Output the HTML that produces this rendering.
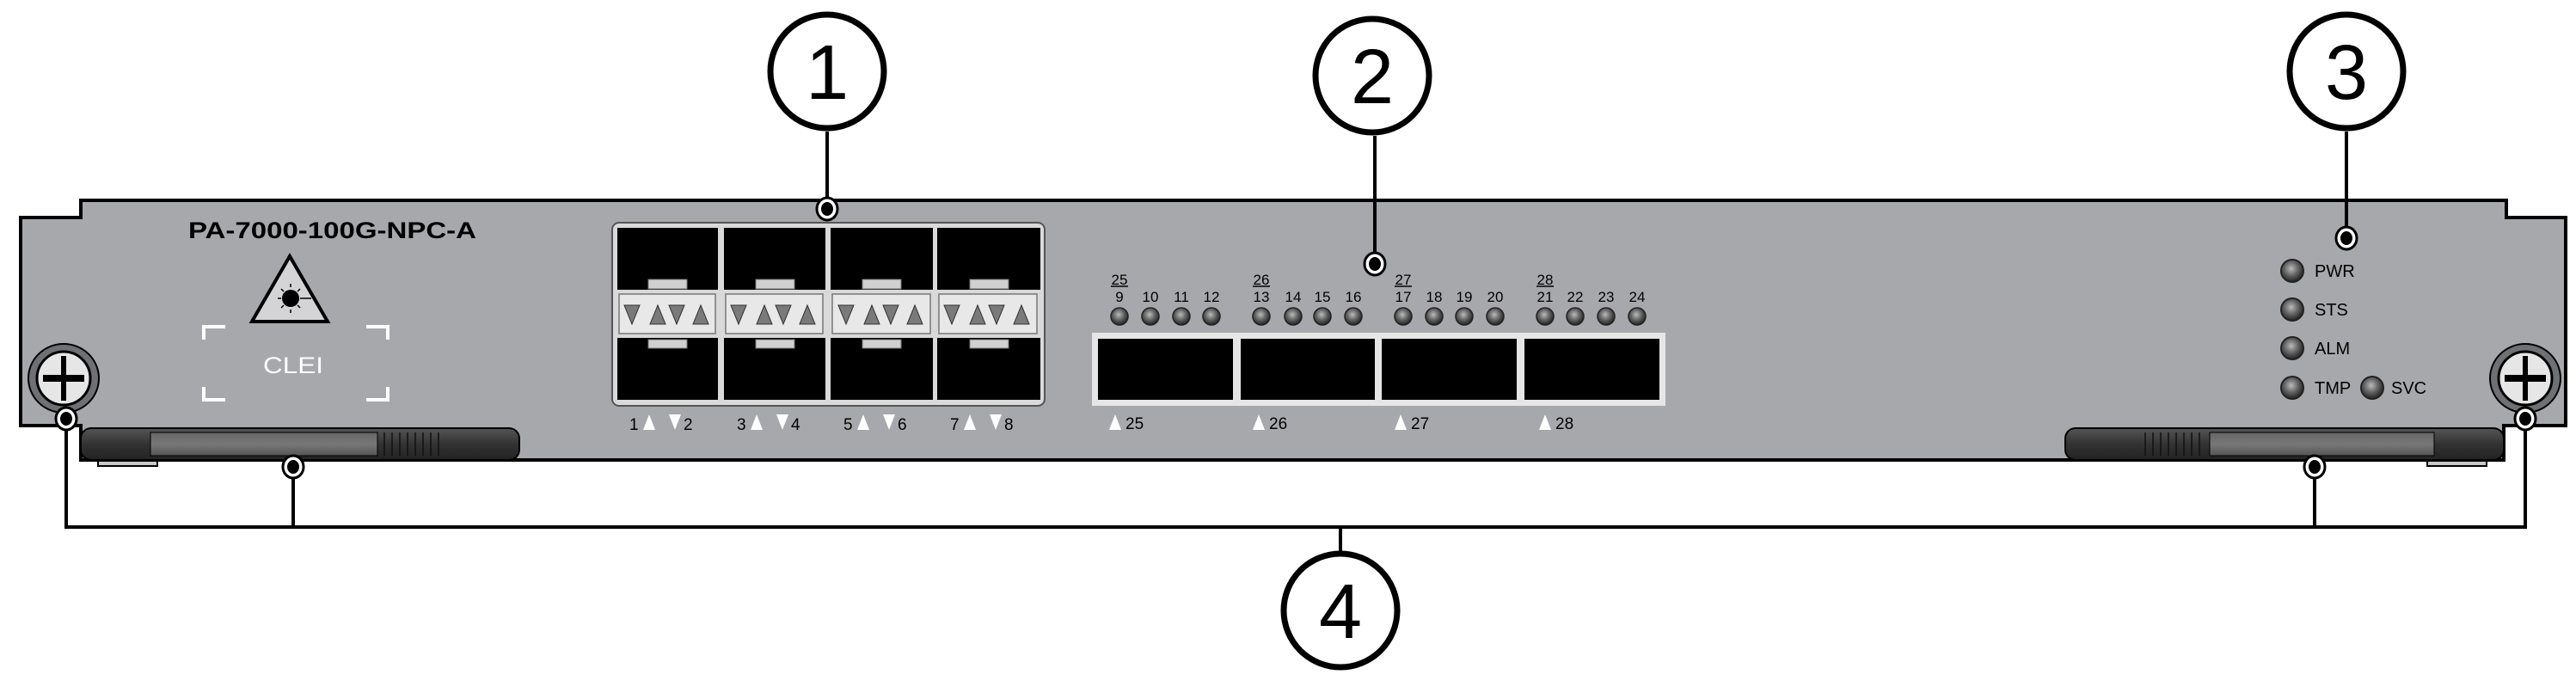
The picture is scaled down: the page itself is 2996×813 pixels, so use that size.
<!DOCTYPE html>
<html><head><meta charset="utf-8"><style>html,body{margin:0;padding:0;background:#fff}svg{display:block}</style></head>
<body>
<svg width="2996" height="813" viewBox="0 0 2996 813" xmlns="http://www.w3.org/2000/svg" font-family="Liberation Sans, sans-serif">
<defs>
<radialGradient id="led" cx="0.45" cy="0.4" r="0.6"><stop offset="0" stop-color="#bbb"/><stop offset="0.5" stop-color="#666"/><stop offset="1" stop-color="#222"/></radialGradient>
<linearGradient id="hdl" x1="0" y1="0" x2="0" y2="1"><stop offset="0" stop-color="#555"/><stop offset="0.5" stop-color="#333"/><stop offset="1" stop-color="#222"/></linearGradient>
<linearGradient id="hbar" x1="0" y1="0" x2="0" y2="1"><stop offset="0" stop-color="#666"/><stop offset="0.5" stop-color="#777"/><stop offset="1" stop-color="#555"/></linearGradient>
<g id="dot"><ellipse cx="0" cy="0" rx="12" ry="13" fill="#fff" stroke="#000" stroke-width="3"/><ellipse cx="0" cy="0" rx="7" ry="8" fill="#000"/></g>
<g id="screw"><ellipse cx="0" cy="0" rx="41" ry="40" fill="#6f7073" stroke="#000" stroke-width="2"/><circle cx="0" cy="0" r="31" fill="#e6e6e6" stroke="#000" stroke-width="3"/><rect x="-24" y="-4" width="48" height="8" fill="#000"/><rect x="-3" y="-26" width="6" height="52" fill="#000"/></g>
</defs>

<!-- brackets behind handles -->
<rect x="114" y="493" width="69" height="49" fill="#c8c8c8" stroke="#000" stroke-width="2"/>
<rect x="2823" y="493" width="69" height="49" fill="#c8c8c8" stroke="#000" stroke-width="2"/>

<!-- panel -->
<polygon points="24,253 94,253 94,233 2915,233 2915,253 2984,253 2984,495 2912,495 2912,535 94,535 94,495 24,495" fill="#a7a8ab" stroke="#000" stroke-width="4"/>

<!-- model text -->
<text x="219" y="277" font-size="27" font-weight="bold" textLength="335" lengthAdjust="spacingAndGlyphs">PA-7000-100G-NPC-A</text>

<!-- laser triangle -->
<polygon points="337,298 381,374 293,374" fill="#d4d4d6" stroke="#000" stroke-width="4"/>
<circle cx="338" cy="347" r="10" fill="#000"/>
<g stroke="#000" stroke-width="1.5">
<line x1="338" y1="330" x2="338" y2="334"/><line x1="338" y1="360" x2="338" y2="364"/>
<line x1="323" y1="347" x2="327" y2="347"/><line x1="349" y1="347" x2="362" y2="347"/>
<line x1="327" y1="336" x2="330" y2="339"/><line x1="349" y1="336" x2="346" y2="339"/>
<line x1="327" y1="358" x2="330" y2="355"/><line x1="349" y1="358" x2="346" y2="355"/>
</g>

<!-- CLEI -->
<g fill="none" stroke="#fff" stroke-width="4">
<path d="M262,380 H237 V395"/><path d="M426,380 H451 V395"/>
<path d="M237,450 V465 H262"/><path d="M451,450 V465 H426"/>
</g>
<text x="341" y="434" font-size="27" fill="#fff" text-anchor="middle" textLength="70" lengthAdjust="spacingAndGlyphs">CLEI</text>

<!-- SFP cage -->
<rect x="712" y="259" width="503" height="213" rx="8" fill="#d9d9d9" stroke="#555" stroke-width="2"/>
<g fill="#000">
<rect x="718" y="265" width="117" height="72"/><rect x="842" y="265" width="118" height="72"/><rect x="966" y="265" width="119" height="72"/><rect x="1090" y="265" width="120" height="72"/>
<rect x="718" y="393" width="117" height="72"/><rect x="842" y="393" width="118" height="72"/><rect x="966" y="393" width="119" height="72"/><rect x="1090" y="393" width="120" height="72"/>
</g>
<g fill="#d0d0d0" stroke="#777" stroke-width="1">
<rect x="754" y="325" width="45" height="11"/><rect x="879" y="325" width="45" height="11"/><rect x="1003" y="325" width="45" height="11"/><rect x="1128" y="325" width="45" height="11"/>
<rect x="754" y="395" width="45" height="10"/><rect x="879" y="395" width="45" height="10"/><rect x="1003" y="395" width="45" height="10"/><rect x="1128" y="395" width="45" height="10"/>
</g>
<g fill="#e8e8e8" stroke="#777" stroke-width="1.5">
<rect x="720" y="342" width="112" height="46"/><rect x="844" y="342" width="113" height="46"/><rect x="968" y="342" width="114" height="46"/><rect x="1092" y="342" width="114" height="46"/>
</g>
<g fill="#7a7a7a" stroke="#333" stroke-width="1">
<!-- triangles per cell -->
<path d="M726,355 h18 l-9,22 z"/><path d="M756,377 h18 l-9,-22 z"/><path d="M778,355 h18 l-9,22 z"/><path d="M806,377 h18 l-9,-22 z"/>
<path d="M850,355 h18 l-9,22 z"/><path d="M880,377 h18 l-9,-22 z"/><path d="M902,355 h18 l-9,22 z"/><path d="M930,377 h18 l-9,-22 z"/>
<path d="M975,355 h18 l-9,22 z"/><path d="M1005,377 h18 l-9,-22 z"/><path d="M1027,355 h18 l-9,22 z"/><path d="M1055,377 h18 l-9,-22 z"/>
<path d="M1098,355 h18 l-9,22 z"/><path d="M1128,377 h18 l-9,-22 z"/><path d="M1150,355 h18 l-9,22 z"/><path d="M1179,377 h18 l-9,-22 z"/>
</g>
<!-- SFP labels -->
<g font-size="19" fill="#000">
<text x="732" y="500">1</text><path d="M748,500 l7,-18 l7,18 z" fill="#fff"/><path d="M778,482 l7,18 l7,-18 z" fill="#fff"/><text x="795" y="500">2</text>
<text x="857" y="500">3</text><path d="M873,500 l7,-18 l7,18 z" fill="#fff"/><path d="M903,482 l7,18 l7,-18 z" fill="#fff"/><text x="920" y="500">4</text>
<text x="981" y="500">5</text><path d="M997,500 l7,-18 l7,18 z" fill="#fff"/><path d="M1027,482 l7,18 l7,-18 z" fill="#fff"/><text x="1044" y="500">6</text>
<text x="1105" y="500">7</text><path d="M1121,500 l7,-18 l7,18 z" fill="#fff"/><path d="M1151,482 l7,18 l7,-18 z" fill="#fff"/><text x="1168" y="500">8</text>
</g>

<!-- QSFP LED labels -->
<g font-size="17" fill="#000" text-anchor="middle">
<text x="1302" y="331">25</text><line x1="1292" y1="333" x2="1312" y2="333" stroke="#000" stroke-width="1.5"/>
<text x="1467" y="331">26</text><line x1="1457" y1="333" x2="1477" y2="333" stroke="#000" stroke-width="1.5"/>
<text x="1632" y="331">27</text><line x1="1622" y1="333" x2="1642" y2="333" stroke="#000" stroke-width="1.5"/>
<text x="1797" y="331">28</text><line x1="1787" y1="333" x2="1807" y2="333" stroke="#000" stroke-width="1.5"/>
<text x="1302" y="351">9</text><text x="1338" y="351">10</text><text x="1374" y="351">11</text><text x="1409" y="351">12</text>
<text x="1467" y="351">13</text><text x="1504" y="351">14</text><text x="1538" y="351">15</text><text x="1574" y="351">16</text>
<text x="1632" y="351">17</text><text x="1668" y="351">18</text><text x="1703" y="351">19</text><text x="1739" y="351">20</text>
<text x="1797" y="351">21</text><text x="1832" y="351">22</text><text x="1868" y="351">23</text><text x="1904" y="351">24</text>
</g>
<g fill="url(#led)" stroke="#222" stroke-width="1.5">
<circle cx="1302" cy="368" r="10"/><circle cx="1338" cy="368" r="10"/><circle cx="1374" cy="368" r="10"/><circle cx="1409" cy="368" r="10"/>
<circle cx="1467" cy="368" r="10"/><circle cx="1504" cy="368" r="10"/><circle cx="1538" cy="368" r="10"/><circle cx="1574" cy="368" r="10"/>
<circle cx="1632" cy="368" r="10"/><circle cx="1668" cy="368" r="10"/><circle cx="1703" cy="368" r="10"/><circle cx="1739" cy="368" r="10"/>
<circle cx="1797" cy="368" r="10"/><circle cx="1832" cy="368" r="10"/><circle cx="1868" cy="368" r="10"/><circle cx="1904" cy="368" r="10"/>
</g>

<!-- QSFP cages -->
<rect x="1270" y="387" width="667" height="85" fill="#e6e6e6"/>
<g fill="#000"><rect x="1277" y="394" width="157" height="71"/><rect x="1443" y="394" width="156" height="71"/><rect x="1607" y="394" width="157" height="71"/><rect x="1773" y="394" width="157" height="71"/></g>
<g font-size="19" fill="#000">
<path d="M1290,500 l7,-18 l7,18 z" fill="#fff"/><text x="1309" y="499">25</text>
<path d="M1457,500 l7,-18 l7,18 z" fill="#fff"/><text x="1476" y="499">26</text>
<path d="M1622,500 l7,-18 l7,18 z" fill="#fff"/><text x="1641" y="499">27</text>
<path d="M1790,500 l7,-18 l7,18 z" fill="#fff"/><text x="1809" y="499">28</text>
</g>

<!-- status LEDs -->
<g fill="url(#led)" stroke="#222" stroke-width="2">
<circle cx="2666" cy="315" r="13"/><circle cx="2666" cy="360" r="13"/><circle cx="2666" cy="405" r="13"/><circle cx="2666" cy="451" r="13"/><circle cx="2759" cy="451" r="13"/>
</g>
<g font-size="20" fill="#000">
<text x="2692" y="322">PWR</text><text x="2692" y="367">STS</text><text x="2692" y="412">ALM</text><text x="2692" y="458">TMP</text><text x="2781" y="458">SVC</text>
</g>

<!-- handles -->
<rect x="94" y="498" width="510" height="37" rx="12" fill="url(#hdl)" stroke="#000" stroke-width="2"/>
<rect x="175" y="503" width="264" height="27" fill="url(#hbar)" stroke="#000" stroke-width="1"/>
<g stroke="#111" stroke-width="1.5"><line x1="447" y1="503" x2="447" y2="530"/><line x1="456" y1="503" x2="456" y2="530"/><line x1="465" y1="503" x2="465" y2="530"/><line x1="474" y1="503" x2="474" y2="530"/><line x1="483" y1="503" x2="483" y2="530"/><line x1="492" y1="503" x2="492" y2="530"/><line x1="501" y1="503" x2="501" y2="530"/><line x1="510" y1="503" x2="510" y2="530"/></g>
<rect x="2402" y="498" width="510" height="37" rx="12" fill="url(#hdl)" stroke="#000" stroke-width="2"/>
<rect x="2570" y="503" width="261" height="27" fill="url(#hbar)" stroke="#000" stroke-width="1"/>
<g stroke="#111" stroke-width="1.5"><line x1="2495" y1="503" x2="2495" y2="530"/><line x1="2504" y1="503" x2="2504" y2="530"/><line x1="2513" y1="503" x2="2513" y2="530"/><line x1="2522" y1="503" x2="2522" y2="530"/><line x1="2531" y1="503" x2="2531" y2="530"/><line x1="2540" y1="503" x2="2540" y2="530"/><line x1="2549" y1="503" x2="2549" y2="530"/><line x1="2558" y1="503" x2="2558" y2="530"/></g>

<!-- screws -->
<use href="#screw" x="74" y="440"/>
<use href="#screw" x="2937" y="440"/>

<!-- callout lines -->
<g stroke="#000" stroke-width="4" fill="none">
<line x1="962" y1="153" x2="962" y2="243"/>
<line x1="1599" y1="158" x2="1599" y2="307"/>
<line x1="2729" y1="153" x2="2729" y2="277"/>
<polyline points="77,487 77,613 2937,613 2937,487"/>
<line x1="341" y1="543" x2="341" y2="613"/>
<line x1="2692" y1="543" x2="2692" y2="613"/>
<line x1="1559" y1="613" x2="1559" y2="642"/>
</g>
<use href="#dot" x="962" y="243"/>
<use href="#dot" x="1599" y="307"/>
<use href="#dot" x="2729" y="277"/>
<use href="#dot" x="77" y="487"/>
<use href="#dot" x="2937" y="487"/>
<use href="#dot" x="341" y="543"/>
<use href="#dot" x="2692" y="543"/>

<!-- callout circles -->
<g fill="#fff" stroke="#000" stroke-width="7">
<circle cx="962" cy="83" r="66"/><circle cx="1596" cy="88" r="66"/><circle cx="2729" cy="83" r="66"/><circle cx="1559" cy="710" r="66"/>
</g>
<g font-size="90" fill="#000" text-anchor="middle">
<text x="962" y="115">1</text><text x="1596" y="120">2</text><text x="2729" y="115">3</text><text x="1559" y="742">4</text>
</g>
</svg>
</body></html>
